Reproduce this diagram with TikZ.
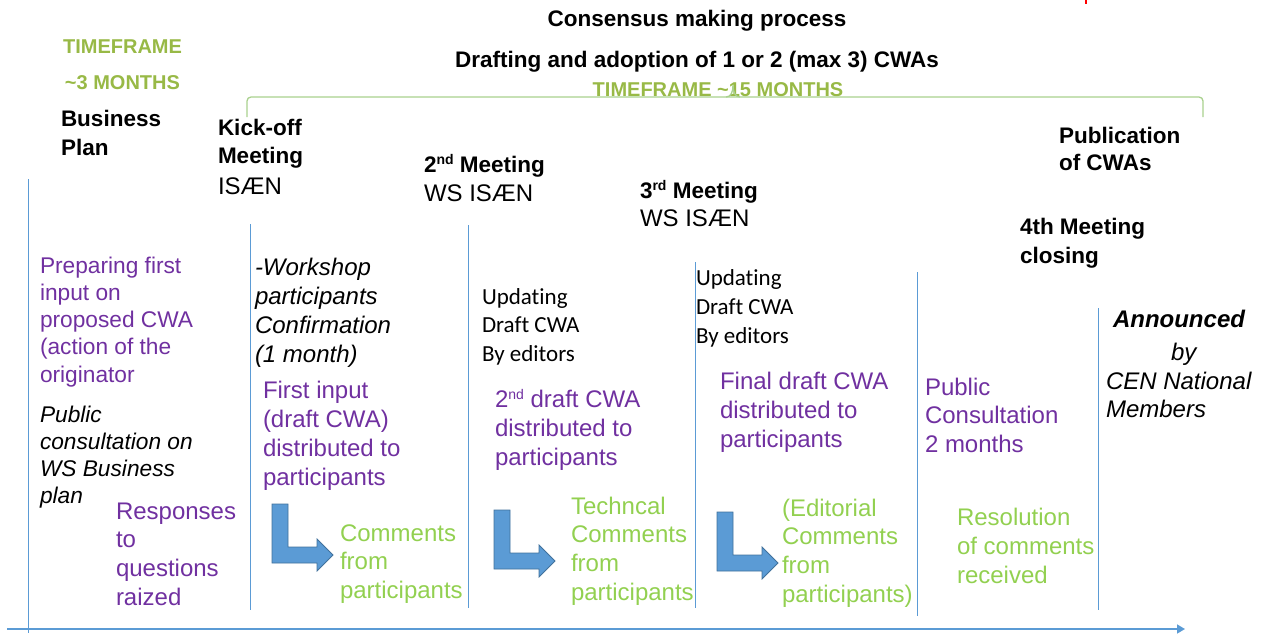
\documentclass[tikz,border=0pt]{standalone}
\usepackage{fontspec}
\setmainfont{Liberation Sans}
\newfontfamily\calibrifont[Ligatures=NoCommon]{Carlito}
\usetikzlibrary{arrows.meta}
\definecolor{txtpurple}{RGB}{112,48,160}
\definecolor{txtgreen}{RGB}{146,208,80}
\definecolor{olivegreen}{RGB}{152,185,70}
\definecolor{bracegreen}{RGB}{169,209,142}
\definecolor{lineblue}{RGB}{91,155,213}
\definecolor{arrowfill}{RGB}{91,155,213}
\definecolor{arrowedge}{RGB}{65,113,156}
\definecolor{markred}{RGB}{255,0,0}
\newcommand\mysupx[1]{\raisebox{0.33em}{\fontsize{14}{14}\selectfont #1}}
\begin{document}
\begin{tikzpicture}[x=1pt,y=-1pt,
  txt/.style={inner sep=0pt, outer sep=0pt, anchor=base west, align=left},
  headtxt/.style={txt, font=\fontsize{22.5}{#1}\selectfont\bfseries},
  headtxt/.default=28.5,
  regtxt/.style={txt, font=\fontsize{24}{#1}\selectfont},
  regtxt/.default=29,
  smalltxt/.style={txt, font=\fontsize{22.7}{#1}\selectfont},
  smalltxt/.default=27.3,
  italtxt/.style={txt, font=\fontsize{24}{#1}\selectfont\itshape},
  italtxt/.default=29,
  smallital/.style={txt, font=\fontsize{22.7}{#1}\selectfont\itshape},
  smallital/.default=27.3,
  caltxt/.style={txt, font=\fontsize{23}{#1}\selectfont\calibrifont},
  caltxt/.default=28.7,
  ptxt/.style={text=txtpurple},
  gtxt/.style={text=txtgreen},
  titletxt/.style={inner sep=0pt, anchor=base, font=\fontsize{22.5}{27}\selectfont\bfseries},
  olivetxt/.style={inner sep=0pt, anchor=base, font=\fontsize{20}{24}\selectfont\bfseries, text=olivegreen},
  vline/.style={draw=lineblue, line width=0.9pt},
  axisline/.style={draw=lineblue, line width=1.5pt, -{Triangle[length=8pt,width=9pt]}},
  bracestyle/.style={draw=bracegreen, line width=1.3pt},
  arrowshape/.style={fill=arrowfill, draw=arrowedge, line width=0.8pt, line join=miter},
  bentarrow/.pic={\path[arrowshape] (0,0) -- (16,0) -- (16,43) -- (45,43) -- (45,35) -- (61,51) -- (45,67) -- (45,59) -- (0,59) -- cycle;}
]
\useasboundingbox (0,0) rectangle (1263,633);

% red mark
\draw[markred, line width=1.6pt] (1086,0) -- (1086,4);

% titles
\node[titletxt] (title) at (697,26) {Consensus making process};
\node[titletxt] (subtitle) at (697,67) {Drafting and adoption of 1 or 2 (max 3) CWAs};
\node[olivetxt] (tf15) at (718,96) {TIMEFRAME \textasciitilde15 MONTHS};
\node[olivetxt] (tf3a) at (122.5,53) {TIMEFRAME};
\node[olivetxt] (tf3b) at (122.5,89) {\textasciitilde3 MONTHS};

% brace
\draw[bracestyle, rounded corners=4pt] (247,117) -- (247,97) -- (1203,97) -- (1203,117);
\draw[bracestyle] (726,97) .. controls (731,97) and (733,92) .. (733,85)
                  .. controls (733,92) and (735,97) .. (740,97);

% vertical lines
\coordinate (l1t) at (28,179);  \coordinate (l1b) at (28,633);
\coordinate (l2t) at (250,224); \coordinate (l2b) at (250,610);
\coordinate (l3t) at (468,225); \coordinate (l3b) at (468,608);
\coordinate (l4t) at (695,262); \coordinate (l4b) at (695,608);
\coordinate (l5t) at (917,272); \coordinate (l5b) at (917,616);
\coordinate (l6t) at (1098,308); \coordinate (l6b) at (1098,610);
\draw[vline] (l1t) -- (l1b);
\draw[vline] (l2t) -- (l2b);
\draw[vline] (l3t) -- (l3b);
\draw[vline] (l4t) -- (l4b);
\draw[vline] (l5t) -- (l5b);
\draw[vline] (l6t) -- (l6b);

% axis
\coordinate (axs) at (7,629);
\coordinate (axe) at (1185,629);
\draw[axisline] (axs) -- (axe);

% headings (multi-line nodes: base = last line's baseline)
\node[headtxt=29] (bp) at (61,155) {Business\\Plan};
\node[headtxt] (kick) at (218,163.5) {Kick-off\\Meeting};
\node[regtxt] (kickis) at (218,194) {ISÆN};
\node[headtxt] (m2) at (424,172) {2\mysupx{nd} Meeting};
\node[regtxt] (m2is) at (424,201) {WS ISÆN};
\node[headtxt] (m3) at (640,198) {3\mysupx{rd} Meeting};
\node[regtxt] (m3is) at (640,226.5) {WS ISÆN};
\node[headtxt=27.5] (pub) at (1059,170.5) {Publication\\of CWAs};
\node[headtxt=29] (m4) at (1020,263) {4th Meeting\\closing};

% column 1
\node[smalltxt, ptxt] (prep) at (40,382.2) {Preparing first\\input on\\proposed CWA\\(action of the\\originator};
\node[smallital] (pubcons) at (40,503.9) {Public\\consultation on\\WS Business\\plan};
\node[regtxt=28.7, ptxt] (resp) at (116,605.1) {Responses\\to\\questions\\raized};

% column 2
\node[italtxt] (wsconf) at (255,362) {-Workshop\\participants\\Confirmation\\(1 month)};
\node[regtxt, ptxt] (first) at (263,485) {First input\\(draft CWA)\\distributed to\\participants};
\pic at (272,504) {bentarrow};
\node[regtxt=28.7, gtxt] (com1) at (340,598.4) {Comments\\from\\participants};

% column 3
\node[caltxt] (upd1) at (482,361.4) {Updating\\Draft CWA\\By editors};
\node[regtxt, ptxt] (draft2) at (495,465) {2\mysupx{nd} draft CWA\\distributed to\\participants};
\pic at (494,510) {bentarrow};
\node[regtxt=28.7, gtxt] (com2) at (571,600.1) {Techncal\\Comments\\from\\participants};

% column 4
\node[caltxt=29] (upd2) at (696,343) {Updating\\Draft CWA\\By editors};
\node[regtxt, ptxt] (final) at (720,447) {Final draft CWA\\distributed to\\participants};
\pic at (717,512) {bentarrow};
\node[regtxt=28.7, gtxt] (com3) at (782,602.1) {(Editorial\\Comments\\from\\participants)};

% column 5
\node[regtxt=28.7, ptxt] (pcons) at (925,452.4) {Public\\Consultation\\2 months};
\node[regtxt, gtxt] (resol) at (957,583) {Resolution\\of comments\\received};

% column 6
\node[txt, font=\fontsize{24}{29}\selectfont\bfseries\itshape] (ann) at (1113,327) {Announced};
\node[italtxt] (by) at (1171,360) {by};
\node[italtxt=28.5] (cen) at (1106,417.5) {CEN National\\Members};
\end{tikzpicture}
\end{document}
